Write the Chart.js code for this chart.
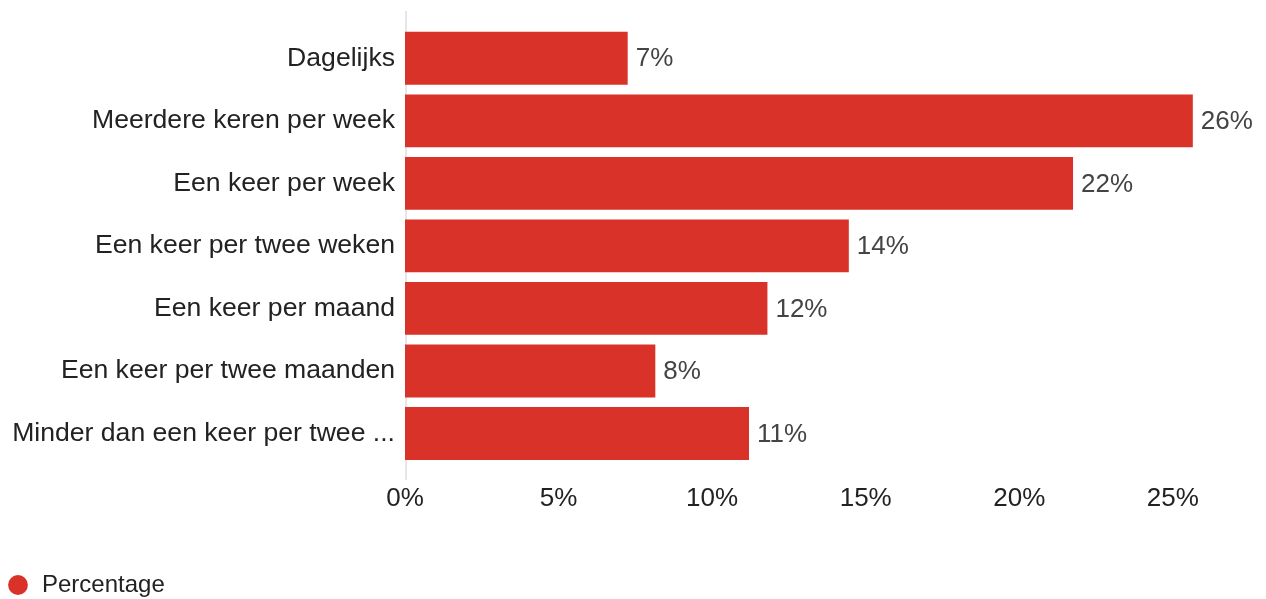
<!DOCTYPE html>
<html>
<head>
<meta charset="utf-8">
<script src="https://cdn.jsdelivr.net/npm/chart.js@4/dist/chart.umd.min.js"></script>
<style>
  html, body { margin: 0; padding: 0; background: #fff; }
  #wrap { width: 1266px; height: 599px; }
</style>
</head>
<body>
<div id="wrap"><canvas id="freqChart"></canvas></div>
<script>
const categories = [
  'Dagelijks',
  'Meerdere keren per week',
  'Een keer per week',
  'Een keer per twee weken',
  'Een keer per maand',
  'Een keer per twee maanden',
  'Minder dan een keer per twee ...'
];
const percentages = [7.25, 25.65, 21.75, 14.45, 11.8, 8.15, 11.2];
const seriesName = 'Percentage';
const tickValues = [0, 5, 10, 15, 20, 25];

const barColor = '#d93229';
const fontFamily = '"Liberation Sans", Arial, sans-serif';

// zero line, a bit taller than the plot area
const zeroLine = {
  id: 'zeroLine',
  beforeDatasetsDraw(chart) {
    const { ctx, chartArea, scales } = chart;
    const x = scales.x.getPixelForValue(0) + 1;
    ctx.save();
    ctx.strokeStyle = '#e6e6e6';
    ctx.lineWidth = 2;
    ctx.beginPath();
    ctx.moveTo(x, chartArea.top - 16);
    ctx.lineTo(x, chartArea.bottom + 15);
    ctx.stroke();
    ctx.restore();
  }
};

// value labels at the end of each bar
const valueLabels = {
  id: 'valueLabels',
  afterDatasetsDraw(chart) {
    const ctx = chart.ctx;
    const meta = chart.getDatasetMeta(0);
    ctx.save();
    ctx.font = '26px ' + fontFamily;
    ctx.fillStyle = '#444';
    ctx.textBaseline = 'middle';
    ctx.textAlign = 'left';
    meta.data.forEach((bar, i) => {
      ctx.fillText(Math.round(percentages[i]) + '%', bar.x + 8, bar.y + 1);
    });
    ctx.restore();
  }
};

const ctx = document.getElementById('freqChart');
new Chart(ctx, {
  type: 'bar',
  data: {
    labels: categories,
    datasets: [{
      label: seriesName,
      data: percentages,
      backgroundColor: barColor,
      borderWidth: 0,
      categoryPercentage: 1,
      barPercentage: 0.845
    }]
  },
  options: {
    indexAxis: 'y',
    responsive: true,
    maintainAspectRatio: false,
    animation: false,
    layout: { padding: { top: 27, left: 3, right: 1, bottom: -8 } },
    scales: {
      x: {
        min: 0,
        max: 28,
        afterBuildTicks(scale) {
          scale.ticks = tickValues.map(v => ({ value: v }));
        },
        afterFit(scale) { scale.height += 50; },
        ticks: {
          color: '#222',
          font: { family: fontFamily, size: 26 },
          padding: 6,
          callback: v => v + '%'
        },
        grid: { display: false, tickLength: 12 },
        border: { display: false }
      },
      y: {
        afterFit(scale) { scale.width = 402; },
        ticks: {
          color: '#222',
          font: { family: fontFamily, size: 26.6 },
          padding: 2
        },
        grid: { display: false },
        border: { display: false }
      }
    },
    plugins: {
      legend: {
        position: 'bottom',
        align: 'start',
        labels: {
          usePointStyle: true,
          pointStyle: 'circle',
          boxWidth: 24,
          boxHeight: 14,
          padding: 3,
          color: '#222',
          font: { family: fontFamily, size: 24 }
        }
      },
      tooltip: { enabled: false }
    }
  },
  plugins: [zeroLine, valueLabels]
});
</script>
</body>
</html>
